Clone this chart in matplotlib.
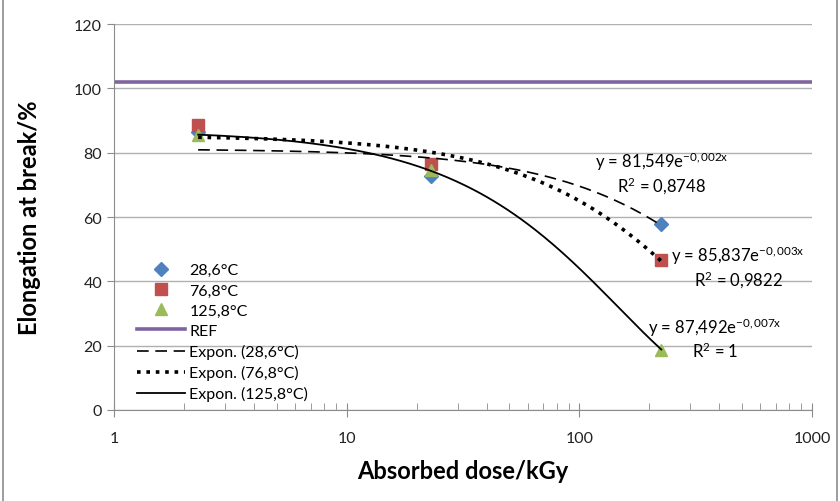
import numpy as np
import matplotlib.pyplot as plt
from matplotlib.patches import Rectangle

plt.rcParams['font.family'] = ['Lato', 'DejaVu Sans']
plt.rcParams['mathtext.fontset'] = 'custom'
plt.rcParams['mathtext.rm'] = 'Lato'
plt.rcParams['mathtext.it'] = 'Lato'

# data
dose = [2.3, 23, 225]
e_286 = [86.5, 72.8, 57.8]
e_768 = [88.5, 76.5, 46.5]
e_1258 = [85.5, 74.5, 18.8]
ref = 102

series = [
    ("28,6°C", e_286, "D", "#4F81BD", 7),
    ("76,8°C", e_768, "s", "#C0504D", 9),
    ("125,8°C", e_1258, "^", "#9BBB59", 9),
]
trend_styles = [(0, (7, 4)), (0, (1, 1.6)), "-"]
trend_widths = [1.2, 2.6, 1.3]
eq_text = ["y = 81,549e$^{-0,002x}$\nR$^2$ = 0,8748",
           "y = 85,837e$^{-0,003x}$\nR$^2$ = 0,9822",
           "y = 87,492e$^{-0,007x}$\nR$^2$ = 1"]
eq_pos = [(226, 73.7), (481, 44.6), (383, 22.4)]

fig = plt.figure(figsize=(8.4, 5.02), dpi=100)
fig.patches.append(Rectangle((0.004, -0.01), 0.992, 1.02, transform=fig.transFigure,
                             fill=False, edgecolor="#8c8c8c", linewidth=1.2))
ax = fig.add_axes([0.1357, 0.1813, 0.8310, 0.7687])

for label, vals, mk, col, ms in series:
    ax.plot(dose, vals, linestyle="none", marker=mk, color=col, markersize=ms,
            label=label, zorder=3)

ax.axhline(ref, color="#8064A2", linewidth=2.6, label="REF", zorder=2)

# exponential trendlines (least squares on log y, as Excel does)
xs = np.geomspace(dose[0], dose[-1], 200)
for (label, vals, mk, col, ms), ls, lw in zip(series, trend_styles, trend_widths):
    b, a = np.polyfit(dose, np.log(vals), 1)
    ax.plot(xs, np.exp(a) * np.exp(b * xs), color="black", linestyle=ls,
            linewidth=lw, label="Expon. (%s)" % label, zorder=4)

for txt, (x, y) in zip(eq_text, eq_pos):
    ax.text(x, y, txt, ha="center", va="center", fontsize=12,
            multialignment="center", linespacing=1.15, zorder=5)

ax.set_xscale("log")
ax.set_xlim(1, 1000)
ax.set_ylim(0, 120)
ax.set_yticks(range(0, 121, 20))
ax.yaxis.grid(True, color="#b0b0b0", linewidth=1)
ax.set_axisbelow(True)
for s in ["top", "right"]:
    ax.spines[s].set_visible(False)
ax.spines["left"].set_color("#8c8c8c")
ax.spines["bottom"].set_color("#8c8c8c")
ax.tick_params(axis="both", colors="#8c8c8c", labelcolor="#222222", labelsize=11.5)
ax.tick_params(axis="x", which="major", direction="inout", length=10, pad=10)
ax.tick_params(axis="x", which="minor", direction="in", length=5, color="#8c8c8c")
ax.tick_params(axis="y", direction="out", length=5)
ax.set_xticks([1, 10, 100, 1000])
ax.set_xticklabels(["1", "10", "100", "1000"])

ax.set_xlabel("Absorbed dose/kGy", fontsize=17, fontweight="bold", labelpad=10)
ax.set_ylabel("Elongation at break/%", fontsize=17, fontweight="bold", labelpad=24)

ax.legend(loc="lower left", bbox_to_anchor=(0.012, -0.015), frameon=False,
          fontsize=11.5, handlelength=3, handletextpad=0.3, labelspacing=0.38)

fig.savefig("out.png", dpi=100)
